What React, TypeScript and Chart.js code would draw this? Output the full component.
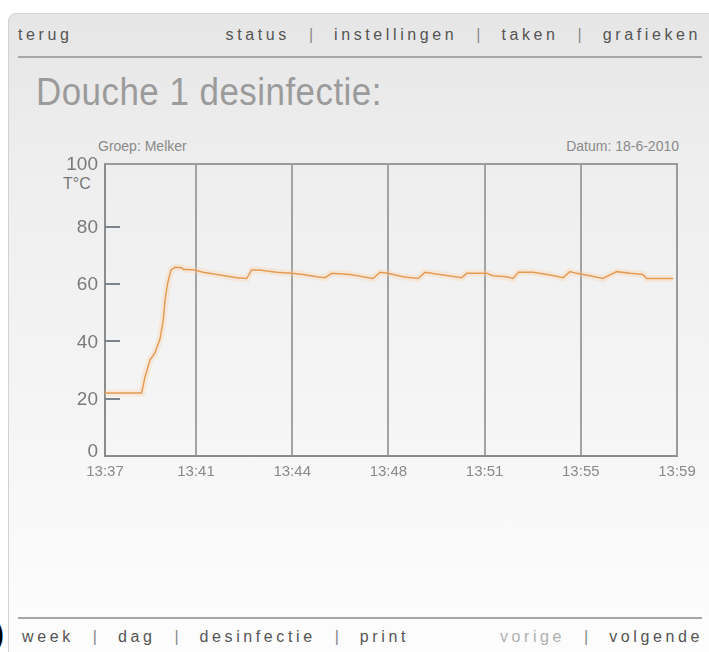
import React, { useEffect, useRef } from "react";
import { Chart, registerables } from "chart.js";

Chart.register(...registerables);

// minutes since 13:37
const timeMinutes = [
  0, 1.41, 1.54, 1.73, 1.92, 2.0, 2.12, 2.24, 2.31, 2.41, 2.54, 2.69, 2.95, 3.01,
  3.46, 3.77, 4.42, 5.07, 5.45, 5.64, 5.96, 6.22, 6.6, 7.18, 7.62, 8.14, 8.46,
  8.72, 9.42, 10.31, 10.58, 10.88, 11.46, 12.04, 12.31, 12.88, 13.72, 13.91,
  14.68, 14.92, 15.45, 15.69, 15.9, 16.46, 17.12, 17.62, 17.88, 18.14, 18.65,
  19.15, 19.68, 20.19, 20.69, 20.83, 21.85,
];
const temperature = [
  22, 22, 27.7, 33.5, 36, 38, 41, 47.5, 54.5, 60.4, 65, 65.9, 65.8, 65.2,
  65, 64.2, 63.2, 62.3, 62, 65, 65, 64.6, 64.2, 63.8, 63.4, 62.6, 62.3,
  63.8, 63.4, 62, 64.2, 63.8, 62.6, 62, 64.2, 63.4, 62.3, 63.8,
  63.8, 63, 62.6, 62, 64.2, 64.2, 63.2, 62.3, 64.4, 63.8, 63,
  62, 64.4, 63.8, 63.4, 62, 62,
];
const tickMinutes = [0, 3.5, 7.2, 10.9, 14.6, 18.3, 22];
const tickLabels = ["13:37", "13:41", "13:44", "13:48", "13:51", "13:55", "13:59"];
const yTicks = [0, 20, 40, 60, 80, 100];
const innerTicks = [20, 40, 60, 80];

const FONT = "'Liberation Sans', Arial, sans-serif";

const framePlugin = {
  id: "frame",
  afterDraw(chart: any) {
    const { ctx, chartArea } = chart;
    const y = chart.scales.y;
    ctx.save();
    ctx.strokeStyle = "#9a9a9a";
    ctx.lineWidth = 2;
    ctx.beginPath();
    ctx.moveTo(chartArea.left, chartArea.top);
    ctx.lineTo(chartArea.right, chartArea.top);
    ctx.lineTo(chartArea.right, chartArea.bottom);
    ctx.stroke();
    ctx.strokeStyle = "#7c838b";
    ctx.lineWidth = 2;
    innerTicks.forEach((v) => {
      const py = Math.round(y.getPixelForValue(v));
      ctx.beginPath();
      ctx.moveTo(chartArea.left, py);
      ctx.lineTo(chartArea.left + 15, py);
      ctx.stroke();
    });
    ctx.restore();
  },
};

function TempChart() {
  const ref = useRef<HTMLCanvasElement | null>(null);
  useEffect(() => {
    if (!ref.current) return;
    const pts = timeMinutes.map((t, i) => ({ x: t, y: temperature[i] }));
    const chart = new Chart(ref.current, {
      type: "line",
      data: {
        datasets: [
          {
            data: pts,
            borderColor: "rgba(250, 205, 155, 0.28)",
            borderWidth: 7,
            pointRadius: 0,
            tension: 0,
          },
          {
            data: pts,
            borderColor: "#dd883a",
            borderWidth: 1.5,
            pointRadius: 0,
            tension: 0,
          },
        ],
      },
      options: {
        animation: false,
        responsive: false,
        layout: { padding: { top: 24, right: 20, left: 0, bottom: 0 } },
        plugins: { legend: { display: false }, tooltip: { enabled: false } },
        scales: {
          x: {
            type: "linear",
            min: 0,
            max: 22,
            afterBuildTicks: (s: any) => {
              s.ticks = tickMinutes.map((v) => ({ value: v }));
            },
            afterFit: (s: any) => {
              s.height = 30;
              s.paddingLeft = 0;
              s.paddingRight = 0;
            },
            ticks: {
              autoSkip: false,
              maxRotation: 0,
              padding: 7,
              color: "#8a8a8a",
              font: { size: 15, family: FONT },
              callback: (_v: any, i: number) => tickLabels[i],
            },
            grid: { color: "#a3a3a3", lineWidth: 2, drawTicks: false },
            border: { color: "#8c8c8c", width: 2 },
          },
          y: {
            min: 0,
            max: 102,
            afterBuildTicks: (s: any) => {
              s.ticks = yTicks.map((v) => ({ value: v }));
            },
            afterFit: (s: any) => {
              s.width = 65;
              s.paddingTop = 0;
              s.paddingBottom = 0;
            },
            ticks: {
              padding: 7,
              color: "#7a7a7a",
              labelOffset: 1,
              font: (c: any) => {
                const v = c.tick ? c.tick.value : 50;
                if (v === 100 || v === 0) return { size: 19, family: FONT, lineHeight: 0.6 };
                return { size: 19, family: FONT };
              },
              callback: (v: any) => (v === 0 || v === 100 ? [String(v), ""] : String(v)),
            },
            grid: { drawOnChartArea: false, drawTicks: false },
            border: { color: "#8c8c8c", width: 2 },
          },
        },
      },
      plugins: [framePlugin],
    });
    return () => chart.destroy();
  }, []);
  return (
    <canvas
      ref={ref}
      width={657}
      height={346}
      style={{ position: "absolute", left: 40, top: 140, width: 657, height: 346 }}
    />
  );
}

const navStyle: React.CSSProperties = {
  position: "absolute",
  fontFamily: FONT,
  fontSize: 16,
  letterSpacing: 3.6,
  color: "#555",
  whiteSpace: "nowrap",
};

function Sep() {
  return <span style={{ color: "#888", margin: "0 21px 0 19px", letterSpacing: 0 }}>|</span>;
}

export default function App() {
  return (
    <div
      style={{
        position: "absolute",
        left: 0,
        top: 0,
        width: 709,
        height: 652,
        overflow: "hidden",
        background: "#ffffff",
        fontFamily: FONT,
      }}
    >
      <div
        style={{
          position: "absolute",
          left: 8,
          top: 13,
          width: 740,
          height: 700,
          border: "1px solid #d2d2d2",
          borderRadius: 8,
          background: "linear-gradient(#e6e6e6 0px, #eeeeee 150px, #f5f5f5 400px, #fcfcfc 600px)",
        }}
      />
      {/* top nav */}
      <div style={{ ...navStyle, left: 18, top: 26 }}>terug</div>
      <div style={{ ...navStyle, right: 8, top: 26 }}>
        status<Sep />instellingen<Sep />taken<Sep />grafieken
      </div>
      <div style={{ position: "absolute", left: 18, top: 56, width: 684, height: 2, background: "#a6a6a6" }} />
      {/* title */}
      <div
        style={{
          position: "absolute",
          left: 36,
          top: 71,
          fontSize: 38,
          letterSpacing: 0.5,
          color: "#9b9b9b",
          fontFamily: FONT,
          whiteSpace: "nowrap",
          transform: "scaleX(0.92)",
          transformOrigin: "left top",
        }}
      >
        Douche 1 desinfectie:
      </div>
      {/* chart header */}
      <div style={{ position: "absolute", left: 98, top: 138, fontSize: 14, color: "#8a8a8a", whiteSpace: "nowrap" }}>
        Groep: Melker
      </div>
      <div style={{ position: "absolute", right: 30, top: 138, fontSize: 14, color: "#8a8a8a", whiteSpace: "nowrap" }}>
        Datum: 18-6-2010
      </div>
      <div style={{ position: "absolute", left: 63, top: 175, fontSize: 16, color: "#777", whiteSpace: "nowrap" }}>
        T°C
      </div>
      <TempChart />
      {/* bottom nav */}
      <div style={{ position: "absolute", left: 18, top: 617, width: 684, height: 2, background: "#a6a6a6" }} />
      <div style={{ ...navStyle, left: 22, top: 628 }}>
        week<Sep />dag<Sep />desinfectie<Sep />print
      </div>
      <div style={{ ...navStyle, right: 6, top: 628 }}>
        <span style={{ color: "#b0b0b0" }}>vorige</span>
        <Sep />volgende
      </div>
      <div
        style={{
          position: "absolute",
          left: -6,
          top: 617,
          fontSize: 30,
          fontWeight: "bold",
          color: "#000",
          fontFamily: FONT,
        }}
      >
        )
      </div>
    </div>
  );
}
